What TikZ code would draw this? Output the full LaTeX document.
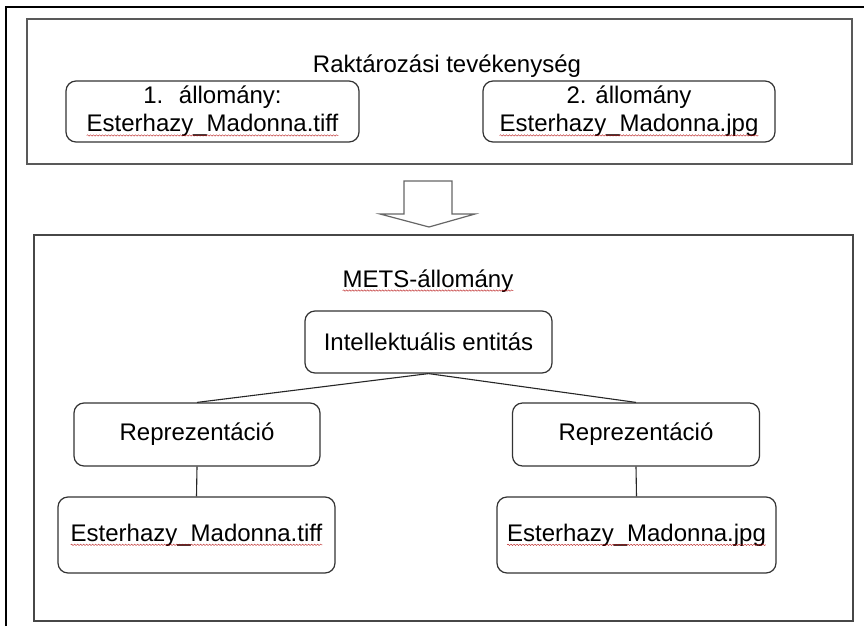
\documentclass[tikz,border=0pt]{standalone}
\usepackage{fontspec}
\setmainfont{Liberation Sans}
\usetikzlibrary{decorations.pathmorphing}

% word with a red wavy underline, as a spell checker draws it
\newcommand\spellwave[1]{\tikz[baseline=(sw.base), x=1pt, y=1pt]{%
  \node[inner sep=0pt, outer sep=0pt, draw=none, fill=none, minimum size=0pt] (sw) {#1};%
  \draw[draw=red!70!black, draw opacity=0.8, fill=none, sharp corners, line width=0.45pt, decorate,
    decoration={snake, amplitude=0.7pt, segment length=3pt}]
    ([yshift=-3.6pt]sw.base west) -- ([yshift=-3.6pt]sw.base east);}}

\begin{document}
\begin{tikzpicture}[x=1pt,y=-1pt,
  panel/.style={draw=black!65, line width=1.5pt, inner sep=0pt},
  item/.style={draw=black!80, line width=1.2pt, rounded corners=10pt, fill=white,
    inner sep=0pt, align=center, font=\fontsize{24}{28}\selectfont},
  link/.style={draw=black!85, line width=1.1pt},
  caption/.style={font=\fontsize{24}{28}\selectfont, inner sep=0pt}
]
\useasboundingbox (0,0) rectangle (864,626);
\fill[white] (0,0) rectangle (864,626);

% page border
\draw[line width=2.5pt] (6,626) -- (6,7) -- (864,7);

% storage panel
\node[panel, minimum width=825pt, minimum height=145pt] (storage) at (439.5,91.5) {};
\node[caption, anchor=base] (storagehead) at (447,73) {Raktározási tevékenység};
\node[item, minimum width=293pt, minimum height=61pt] (file1) at (212.5,111.5)
  {1.~ állomány:\\\spellwave{Esterhazy\_Madonna.tiff}};
\node[item, minimum width=292pt, minimum height=61pt] (file2) at (629,111.5)
  {2. állomány\\\spellwave{Esterhazy\_Madonna.jpg}};

% block arrow between the panels
\draw[draw=black!60, line width=1.2pt, fill=white, line join=miter]
  (404,181) -- (452,181) -- (452,214) -- (475,214) -- (429,227)
  -- (380,214) -- (404,214) -- cycle;

% METS panel
\node[panel, draw=black!72, line width=2pt, minimum width=819pt, minimum height=386pt] (mets) at (443.5,428) {};
\node[caption, anchor=base] (metshead) at (428,287) {\spellwave{METS-állomány}};

\node[item, minimum width=247pt, minimum height=62pt] (entity) at (428.5,342) {Intellektuális entitás};
\node[item, minimum width=246pt, minimum height=63pt] (repL) at (197,434.5) {Reprezentáció};
\node[item, minimum width=247pt, minimum height=63pt] (repR) at (636,434.5) {Reprezentáció};
\node[item, minimum width=277pt, minimum height=76pt] (tiff) at (196.5,535) {\spellwave{Esterhazy\_Madonna.tiff}};
\node[item, minimum width=279pt, minimum height=76pt] (jpg) at (636.5,535) {\spellwave{Esterhazy\_Madonna.jpg}};

\draw[link] (entity.south) -- (repL.north);
\draw[link] (entity.south) -- (repR.north);
\draw[link] (repL.south) -- (tiff.north);
\draw[link] (repR.south) -- (jpg.north);
\end{tikzpicture}
\end{document}
